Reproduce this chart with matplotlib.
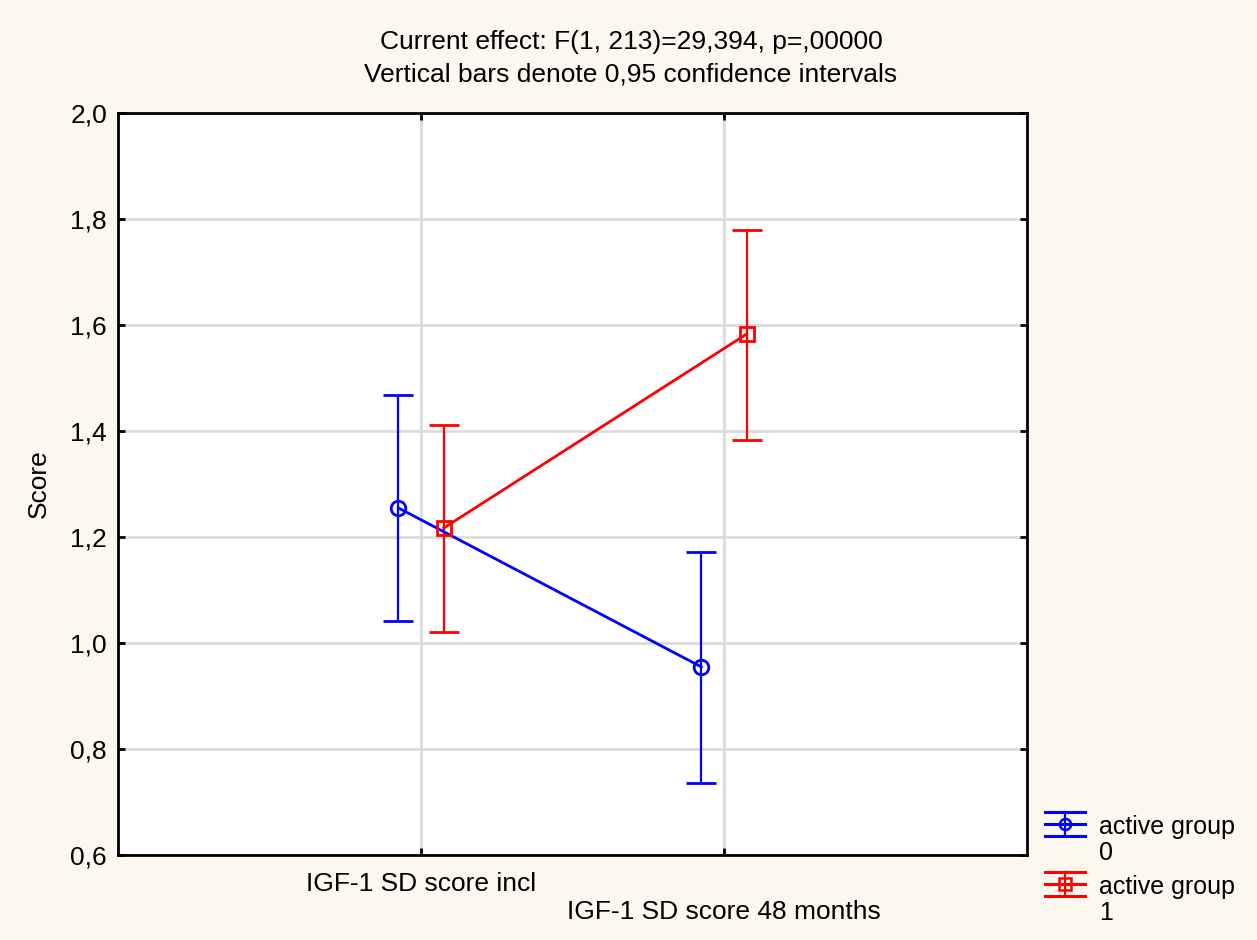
import numpy as np
import matplotlib.pyplot as plt
from matplotlib.lines import Line2D
from matplotlib.legend_handler import HandlerBase
from matplotlib.container import ErrorbarContainer

categories = ['IGF-1 SD score incl', 'IGF-1 SD score 48 months']
groups = ['active group\n0', 'active group\n1']
colors = ['#0000ff', '#ff0000']
markers = ['o', 's']
means = [[1.255, 0.955], [1.217, 1.583]]
lower = [[1.041, 0.736], [1.021, 1.383]]
upper = [[1.468, 1.172], [1.411, 1.779]]
offsets = [-0.075, 0.075]

bg = '#fcf8ef'
plt.rcParams['font.family'] = ['Liberation Sans', 'DejaVu Sans']
fs = 19


class HandlerCI(HandlerBase):
    # STATISTICA style legend key: three horizontal lines, marker on the middle one
    def create_artists(self, legend, orig_handle, xdescent, ydescent,
                       width, height, fontsize, trans):
        line = orig_handle[0]
        c = line.get_color()
        yc = height / 2 - ydescent + 0.67 * fontsize
        dy = 0.47 * fontsize
        x0, x1 = -xdescent, width - xdescent
        xm = (x0 + x1) / 2
        arts = []
        for y in (yc - dy, yc, yc + dy):
            arts.append(Line2D([x0, x1], [y, y], color=c, lw=2.2))
        arts.append(Line2D([xm, xm], [yc - dy, yc + dy], color=c, lw=1.6))
        arts.append(Line2D([xm], [yc], marker=line.get_marker(), color=c,
                           markersize=8, markerfacecolor='none', markeredgewidth=1.8))
        for a in arts:
            a.set_transform(trans)
        return arts


fig = plt.figure(figsize=(12.57, 9.4), dpi=100, facecolor=bg)
ax = fig.add_axes([0.0939, 0.0904, 0.7231, 0.7894])
ax.set_facecolor('white')

x = np.arange(len(categories))
for i in range(len(groups)):
    m = np.array(means[i])
    err = [m - np.array(lower[i]), np.array(upper[i]) - m]
    ax.errorbar(x + offsets[i], m, yerr=err, color=colors[i], marker=markers[i],
                markersize=10.5, markerfacecolor='none', markeredgewidth=2,
                linewidth=2, elinewidth=1.6, capsize=11, capthick=2,
                label=groups[i], zorder=3)

ax.set_xlim(-1, 2)
ax.set_ylim(0.6, 2.0)
yt = np.arange(0.6, 2.01, 0.2)
ax.set_yticks(yt)
ax.set_yticklabels([f'{v:.1f}'.replace('.', ',') for v in yt])
ax.set_xticks(x)
ax.set_xticklabels([categories[0], '\n' + categories[1]])
for t in ax.get_xticklabels():
    t.set_linespacing(1.25)
ax.grid(True, color='#dcdcdc', linewidth=2, zorder=0)
ax.tick_params(direction='in', length=5, width=2, top=True, right=True,
               labelsize=fs, pad=8)
ax.tick_params(axis='x', pad=12)
for s in ax.spines.values():
    s.set_linewidth(2)
ax.set_ylabel('Score', fontsize=fs, labelpad=14)

fig.text(0.502, 0.955, 'Current effect: F(1, 213)=29,394, p=,00000',
         ha='center', va='center', fontsize=fs)
fig.text(0.502, 0.921, 'Vertical bars denote 0,95 confidence intervals',
         ha='center', va='center', fontsize=fs)

leg = ax.legend(loc='upper left', bbox_to_anchor=(1045 / 1257, 1 - 815 / 940),
                bbox_transform=fig.transFigure, frameon=False, borderpad=0,
                borderaxespad=0, fontsize=18, handlelength=1.6, handletextpad=0.55,
                labelspacing=0.4, handler_map={ErrorbarContainer: HandlerCI()})
for t in leg.get_texts():
    t.set_linespacing(1.1)

fig.savefig('out.png', dpi=100, facecolor=bg)
